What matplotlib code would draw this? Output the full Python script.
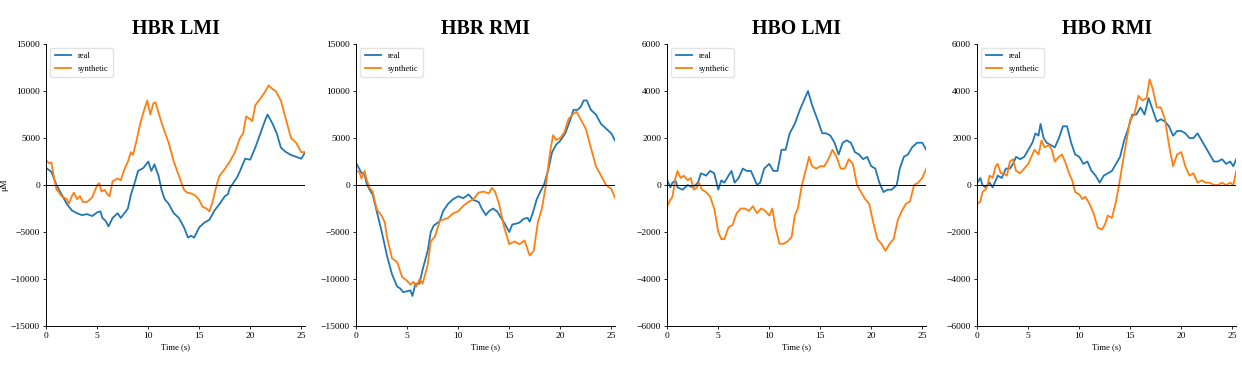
import numpy as np
import matplotlib.pyplot as plt

plt.rcParams['font.family'] = ['Liberation Serif', 'DejaVu Serif']

# HBR LMI
hbr_lmi_real_t = [0, 0.5, 1.0, 1.5, 2.0, 2.5, 3.0, 3.5, 4.0, 4.5, 5.0, 5.3, 5.5, 5.8, 6.1, 6.5, 7.0,
                  7.3, 7.8, 8.0, 8.3, 8.6, 9.0, 9.5, 10.0, 10.3, 10.6, 11.0, 11.3, 11.6, 12.0, 12.5,
                  13.0, 13.5, 13.9, 14.2, 14.5, 15.0, 15.5, 16.0, 16.5, 17.0, 17.5, 17.8, 18.0, 18.2,
                  18.7, 19.0, 19.5, 20.0, 20.5, 21.0, 21.5, 21.7, 22.2, 22.6, 23.0, 23.5, 24.0, 24.5,
                  25.0, 25.4]
hbr_lmi_real = [1800, 1400, 0, -1000, -2000, -2700, -3000, -3200, -3100, -3300, -2900, -2800, -3500,
                -3800, -4400, -3500, -3000, -3500, -2800, -2500, -1000, 0, 1500, 1800, 2500, 1500,
                2200, 1000, -500, -1500, -2000, -3000, -3500, -4500, -5600, -5400, -5600, -4500,
                -4000, -3700, -2700, -2000, -1200, -1000, -300, 0, 800, 1500, 2800, 2700, 4000, 5500,
                7000, 7500, 6500, 5500, 4000, 3500, 3200, 3000, 2800, 3500]
hbr_lmi_syn_t = [0, 0.3, 0.5, 0.8, 1.0, 1.2, 1.5, 2.0, 2.2, 2.5, 2.7, 3.0, 3.3, 3.6, 4.0, 4.5, 4.8,
                 5.0, 5.2, 5.4, 5.7, 6.0, 6.2, 6.5, 7.0, 7.3, 7.6, 8.0, 8.3, 8.5, 8.8, 9.2, 9.6,
                 9.9, 10.2, 10.5, 10.7, 11.2, 11.5, 12.0, 12.5, 13.0, 13.5, 13.8, 14.2, 14.6, 15.0,
                 15.3, 15.7, 16.0, 16.3, 16.7, 17.0, 17.5, 18.0, 18.5, 19.0, 19.3, 19.6, 20.0, 20.2,
                 20.5, 21.0, 21.5, 21.8, 22.2, 22.5, 23.0, 23.5, 24.0, 24.5, 25.0, 25.4]
hbr_lmi_syn = [2600, 2300, 2400, 500, -500, -700, -1200, -1500, -2000, -1200, -800, -1500, -1200,
               -1800, -1800, -1300, -500, 0, 200, -700, -500, -1000, -1200, 400, 700, 500, 1500,
               2500, 3500, 3200, 4500, 6500, 8000, 9000, 7500, 8700, 8800, 7000, 6000, 4500, 2500,
               1000, -500, -800, -900, -1100, -1600, -2300, -2500, -2800, -1800, 0, 1000, 1700,
               2500, 3500, 5000, 5500, 7300, 7000, 6800, 8500, 9200, 10000, 10600, 10200, 10000,
               9000, 7000, 5000, 4500, 3500, 3500]

# HBR RMI
hbr_rmi_real_t = [0, 0.3, 0.5, 0.8, 1.0, 1.3, 1.6, 2.0, 2.5, 3.0, 3.5, 4.0, 4.3, 4.6, 5.0, 5.3, 5.5,
                  5.8, 6.2, 6.5, 7.0, 7.3, 7.6, 8.0, 8.2, 8.5, 9.0, 9.5, 10.0, 10.5, 11.0, 11.5,
                  12.0, 12.3, 12.7, 13.0, 13.4, 13.8, 14.2, 14.6, 15.0, 15.3, 15.7, 16.0, 16.4,
                  16.8, 17.0, 17.3, 17.7, 18.0, 18.4, 18.8, 19.2, 19.6, 20.0, 20.5, 21.0, 21.3,
                  21.7, 22.0, 22.3, 22.6, 23.0, 23.5, 24.0, 24.5, 25.0, 25.4]
hbr_rmi_real = [2300, 1700, 1300, 1200, 200, -500, -1000, -2800, -5000, -7500, -9500, -10800,
                -11000, -11400, -11300, -11200, -11800, -10500, -10500, -9000, -7000, -5000, -4300,
                -4000, -3800, -2800, -2000, -1500, -1200, -1400, -1000, -1600, -1800, -2500, -3200,
                -2800, -2500, -2800, -3500, -4200, -5000, -4200, -4100, -4000, -3600, -3500, -3900,
                -3000, -1500, -800, 0, 1500, 3500, 4300, 4700, 5500, 7000, 8000, 8000, 8300, 9000,
                9000, 8000, 7500, 6500, 6000, 5500, 4700]
hbr_rmi_syn_t = [0, 0.3, 0.5, 0.8, 1.0, 1.3, 1.6, 2.0, 2.5, 2.8, 3.0, 3.5, 4.0, 4.5, 5.0, 5.3, 5.6,
                 5.9, 6.2, 6.5, 7.0, 7.3, 7.7, 8.0, 8.2, 8.5, 9.0, 9.5, 10.0, 10.5, 11.0, 11.5,
                 12.0, 12.5, 13.0, 13.3, 13.6, 14.0, 14.5, 15.0, 15.5, 16.0, 16.5, 17.0, 17.4,
                 17.8, 18.2, 18.6, 19.0, 19.3, 19.6, 20.0, 20.4, 20.8, 21.2, 21.6, 22.0, 22.5,
                 23.0, 23.5, 24.0, 24.5, 25.0, 25.4]
hbr_rmi_syn = [1500, 1400, 700, 1500, 600, -300, -700, -2600, -3300, -4000, -5500, -7800, -8200,
               -9800, -10200, -10600, -10300, -10800, -10000, -10500, -8500, -6000, -5500, -4500,
               -3800, -3700, -3500, -3000, -2800, -2200, -1800, -1500, -800, -700, -900, -300,
               -700, -2000, -4500, -6300, -6000, -6300, -5900, -7500, -7000, -4000, -2500, 0,
               3500, 5300, 4800, 5000, 5600, 7000, 7500, 7800, 7000, 6000, 4000, 2000, 1000, 0,
               -400, -1400]

# HBO LMI
hbo_lmi_real_t = [0, 0.3, 0.5, 0.8, 1.0, 1.5, 2.0, 2.5, 3.0, 3.3, 3.8, 4.2, 4.6, 5.0, 5.3, 5.6, 6.0,
                  6.3, 6.6, 7.0, 7.4, 7.8, 8.2, 8.5, 8.8, 9.1, 9.5, 10.0, 10.4, 10.8, 11.2, 11.6,
                  12.0, 12.5, 13.0, 13.5, 13.8, 14.2, 14.8, 15.2, 15.6, 16.0, 16.4, 16.8, 17.2,
                  17.6, 18.0, 18.4, 18.8, 19.2, 19.6, 20.0, 20.4, 20.8, 21.2, 21.6, 22.0, 22.5,
                  22.8, 23.2, 23.6, 24.0, 24.5, 25.0, 25.4]
hbo_lmi_real = [200, -100, 100, 200, -100, -200, 0, -100, 100, 500, 400, 600, 500, -200, 200, 100,
                400, 600, 100, 300, 700, 600, 600, 300, 0, 100, 700, 900, 600, 600, 1500, 1500,
                2200, 2600, 3200, 3700, 4000, 3400, 2700, 2200, 2200, 2100, 1800, 1300, 1800, 1900,
                1800, 1400, 1300, 1100, 1200, 800, 700, 100, -300, -200, -200, 0, 700, 1200, 1300,
                1600, 1800, 1800, 1500]
hbo_lmi_syn_t = [0, 0.2, 0.5, 0.8, 1.0, 1.3, 1.6, 2.0, 2.3, 2.6, 2.9, 3.1, 3.4, 3.8, 4.2, 4.6, 5.0,
                 5.3, 5.6, 6.0, 6.4, 6.8, 7.2, 7.6, 8.0, 8.4, 8.8, 9.2, 9.6, 10.0, 10.3, 10.6,
                 11.0, 11.4, 11.8, 12.2, 12.5, 12.8, 13.2, 13.5, 13.9, 14.2, 14.6, 15.0, 15.4,
                 15.8, 16.2, 16.6, 17.0, 17.4, 17.8, 18.2, 18.6, 19.0, 19.4, 19.8, 20.2, 20.6,
                 21.0, 21.4, 21.8, 22.2, 22.6, 23.0, 23.4, 23.8, 24.2, 24.6, 25.0, 25.4]
hbo_lmi_syn = [-900, -700, -500, 300, 600, 300, 400, 200, 300, -200, -100, 100, -200, -300, -500,
               -1000, -2000, -2300, -2300, -1800, -1700, -1200, -1000, -1000, -1100, -900, -1200,
               -1000, -1100, -1300, -1000, -1800, -2500, -2500, -2400, -2200, -1300, -1000, 0,
               500, 1200, 800, 700, 800, 800, 1100, 1500, 1200, 700, 700, 1100, 900, 0, -300,
               -600, -800, -1600, -2300, -2500, -2800, -2500, -2300, -1500, -1100, -800, -700, 0,
               100, 300, 700]

# HBO RMI
hbo_rmi_real_t = [0, 0.3, 0.5, 0.8, 1.2, 1.5, 1.8, 2.0, 2.4, 2.8, 3.2, 3.5, 3.8, 4.2, 4.6, 5.0, 5.4,
                  5.7, 6.0, 6.2, 6.5, 6.8, 7.2, 7.6, 8.0, 8.4, 8.8, 9.2, 9.6, 10.0, 10.4, 10.8,
                  11.2, 11.6, 12.0, 12.4, 12.8, 13.2, 13.6, 14.0, 14.4, 14.8, 15.2, 15.6, 16.0,
                  16.4, 16.8, 17.2, 17.6, 18.0, 18.4, 18.8, 19.2, 19.6, 20.0, 20.4, 20.8, 21.2,
                  21.6, 22.0, 22.4, 22.8, 23.2, 23.6, 24.0, 24.4, 24.8, 25.1, 25.4]
hbo_rmi_real = [100, 300, 0, -100, 100, -100, 200, 400, 300, 700, 700, 900, 1200, 1100, 1200,
                1500, 1800, 2200, 2100, 2600, 2000, 1800, 1700, 1600, 2000, 2500, 2500, 1800, 1300,
                1200, 900, 1000, 600, 400, 100, 400, 500, 600, 900, 1200, 1900, 2400, 3000, 3000,
                3300, 3000, 3700, 3200, 2700, 2800, 2700, 2500, 2100, 2300, 2300, 2200, 2000, 2000,
                2200, 1900, 1600, 1300, 1000, 1000, 1100, 900, 1000, 800, 1100]
hbo_rmi_syn_t = [0, 0.3, 0.5, 0.8, 1.0, 1.2, 1.5, 1.8, 2.0, 2.3, 2.6, 2.9, 3.2, 3.5, 3.8, 4.2, 4.6,
                 5.0, 5.3, 5.6, 6.0, 6.3, 6.6, 7.0, 7.3, 7.6, 8.0, 8.3, 8.6, 9.0, 9.3, 9.6, 10.0,
                 10.3, 10.6, 11.0, 11.4, 11.8, 12.2, 12.5, 12.8, 13.2, 13.6, 13.9, 14.2, 14.6,
                 15.0, 15.4, 15.8, 16.2, 16.6, 16.9, 17.2, 17.6, 18.0, 18.4, 18.8, 19.2, 19.6,
                 20.0, 20.4, 20.8, 21.2, 21.6, 22.0, 22.4, 22.8, 23.2, 23.6, 24.0, 24.4, 24.8,
                 25.1, 25.4]
hbo_rmi_syn = [-800, -700, -300, -200, 0, 400, 300, 800, 900, 500, 500, 400, 1000, 1100, 600, 500,
               700, 900, 1200, 1500, 1300, 1900, 1600, 1700, 1500, 1000, 1200, 1300, 1000, 500,
               200, -300, -400, -600, -500, -800, -1200, -1800, -1900, -1700, -1300, -1400, -700,
               0, 800, 1800, 2800, 3000, 3800, 3600, 3700, 4500, 4100, 3300, 3300, 2800, 1700,
               800, 1300, 1400, 800, 400, 500, 100, 200, 100, 100, 0, 0, 100, 0, 100, 0, 600]

titles = ['HBR LMI', 'HBR RMI', 'HBO LMI', 'HBO RMI']
panels = [
    (hbr_lmi_real_t, hbr_lmi_real, hbr_lmi_syn_t, hbr_lmi_syn),
    (hbr_rmi_real_t, hbr_rmi_real, hbr_rmi_syn_t, hbr_rmi_syn),
    (hbo_lmi_real_t, hbo_lmi_real, hbo_lmi_syn_t, hbo_lmi_syn),
    (hbo_rmi_real_t, hbo_rmi_real, hbo_rmi_syn_t, hbo_rmi_syn),
]
ylims = [15000, 15000, 6000, 6000]
ysteps = [5000, 5000, 2000, 2000]

fig = plt.figure(figsize=(12.42, 3.67), dpi=100)
lefts = [0.0373, 0.2869, 0.5373, 0.7869]

for i, (rt, rv, st, sv) in enumerate(panels):
    ax = fig.add_axes([lefts[i], 0.1117, 0.2085, 0.7683])
    ax.plot(rt, rv, color='#1f77b4', lw=1.3, label='real')
    ax.plot(st, sv, color='#ff7f0e', lw=1.3, label='synthetic')
    ax.axhline(0, color='black', lw=0.7)
    ax.set_xlim(0, 25.4)
    ax.set_ylim(-ylims[i], ylims[i])
    ax.set_xticks(np.arange(0, 26, 5))
    ax.set_yticks(np.arange(-ylims[i], ylims[i] + 1, ysteps[i]))
    ax.tick_params(labelsize=6.8, length=2.5, width=0.6, pad=2)
    for side in ['top', 'right']:
        ax.spines[side].set_visible(False)
    for side in ['left', 'bottom']:
        ax.spines[side].set_linewidth(0.7)
    ax.set_xlabel('Time (s)', fontsize=6.2, labelpad=2)
    if i == 0:
        ax.set_ylabel('μM', fontsize=6.2, labelpad=2)
    ax.set_title(titles[i], fontsize=14.3, fontweight='bold', pad=7)
    ax.legend(loc='upper left', fontsize=6, handlelength=2, framealpha=0.8,
              edgecolor='#dddddd', borderpad=0.5)

fig.savefig('out.png', dpi=100)
